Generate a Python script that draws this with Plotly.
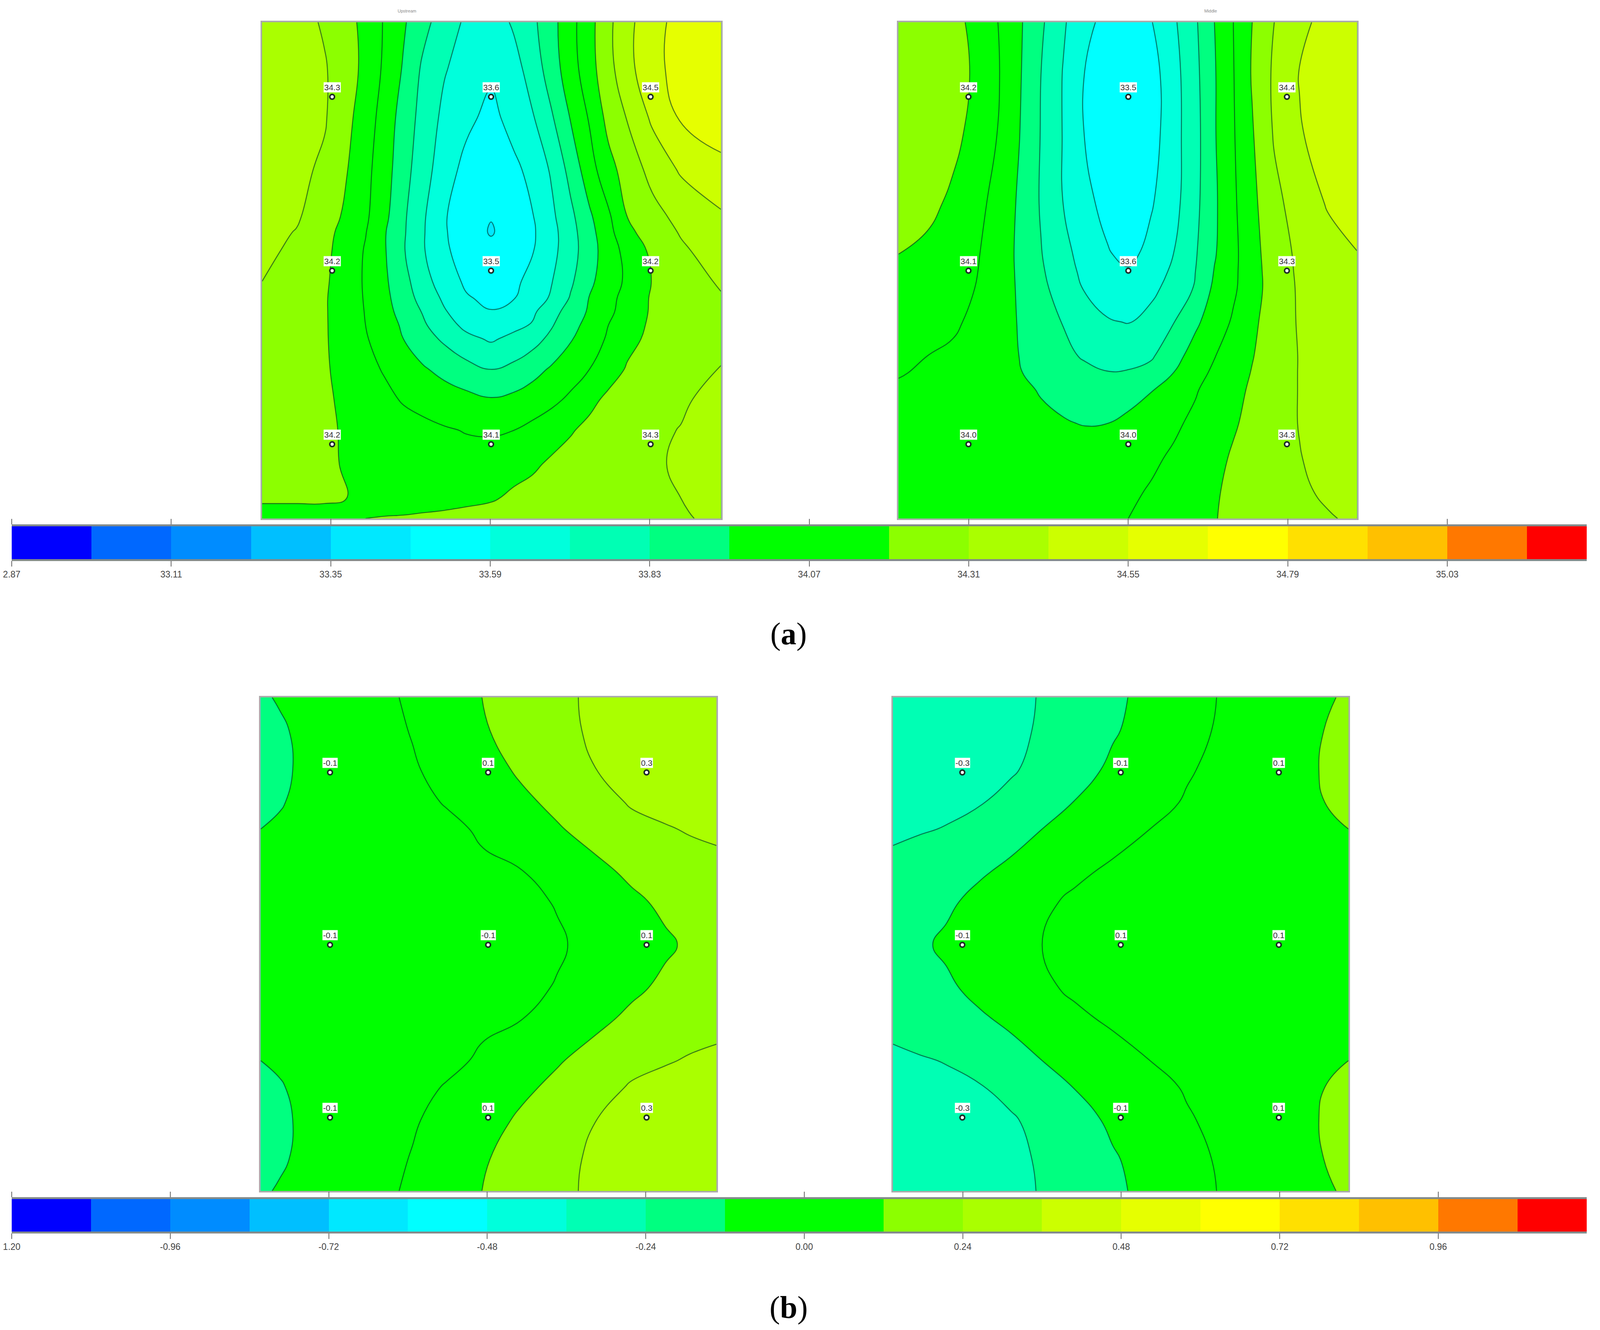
import plotly.graph_objects as go

W = 4370
H = 3404

# band colours of the scale, low to high (the green band is used twice)
band_colors = ['#0000ff', '#0068ff', '#008cff', '#00bfff', '#00e8ff', '#00ffff', '#00ffdc', '#00ffb4', '#00ff80', '#00ff00',
               '#00ff00', '#8cff00', '#aaff00', '#ccff00', '#e6ff00', '#ffff00', '#ffe000', '#ffc000', '#ff7800', '#ff0000']

edges_a = [32.87, 32.99, 33.11, 33.23, 33.35, 33.47, 33.59, 33.71, 33.83, 33.95, 34.07,
           34.19, 34.31, 34.43, 34.55, 34.67, 34.79, 34.91, 35.03, 35.15, 35.24]
ticks_a = [32.87, 33.11, 33.35, 33.59, 33.83, 34.07, 34.31, 34.55, 34.79, 35.03]
labels_a = ['2.87', '33.11', '33.35', '33.59', '33.83', '34.07', '34.31', '34.55', '34.79', '35.03']

edges_b = [-1.20, -1.08, -0.96, -0.84, -0.72, -0.60, -0.48, -0.36, -0.24, -0.12, 0.00,
           0.12, 0.24, 0.36, 0.48, 0.60, 0.72, 0.84, 0.96, 1.08, 1.185]
ticks_b = [-1.20, -0.96, -0.72, -0.48, -0.24, 0.00, 0.24, 0.48, 0.72, 0.96]
labels_b = ['1.20', '-0.96', '-0.72', '-0.48', '-0.24', '0.00', '0.24', '0.48', '0.72', '0.96']

# panel a, left
x_a1 = [42, 150, 240, 310, 370, 430, 490, 550, 620, 690, 768, 840, 900, 960, 1020, 1080, 1140, 1200, 1280, 1370, 1497]
y_a1 = [66, 200, 350, 500, 640, 685, 740, 830, 880, 920, 960, 1000, 1090, 1180, 1270, 1370, 1470, 1510, 1530]
z_a1 = [
    [34.40, 34.36, 34.295, 34.23, 34.155, 34.06, 33.965, 33.87, 33.77, 33.69, 33.65, 33.725, 33.805, 33.91, 34.03, 34.15, 34.28, 34.40, 34.50, 34.60, 34.66],
    [34.40, 34.36, 34.32, 34.24, 34.16, 34.05, 33.94, 33.815, 33.72, 33.66, 33.62, 33.67, 33.76, 33.895, 34.015, 34.145, 34.27, 34.395, 34.51, 34.60, 34.66],
    [34.39, 34.35, 34.32, 34.22, 34.13, 34.02, 33.90, 33.79, 33.68, 33.62, 33.55, 33.64, 33.70, 33.815, 33.955, 34.08, 34.225, 34.315, 34.45, 34.56, 34.63],
    [34.39, 34.34, 34.29, 34.195, 34.105, 34.00, 33.88, 33.76, 33.65, 33.55, 33.52, 33.56, 33.63, 33.725, 33.87, 34.02, 34.15, 34.24, 34.35, 34.445, 34.51],
    [34.36, 34.325, 34.24, 34.17, 34.09, 33.98, 33.85, 33.73, 33.60, 33.52, 33.475, 33.52, 33.585, 33.685, 33.80, 33.93, 34.05, 34.19, 34.27, 34.345, 34.415],
    [34.35, 34.305, 34.225, 34.15, 34.075, 33.96, 33.845, 33.725, 33.60, 33.53, 33.46, 33.525, 33.575, 33.67, 33.785, 33.91, 34.03, 34.165, 34.24, 34.32, 34.39],
    [34.345, 34.28, 34.215, 34.14, 34.06, 33.96, 33.84, 33.725, 33.605, 33.55, 33.505, 33.55, 33.585, 33.675, 33.78, 33.90, 34.01, 34.11, 34.215, 34.29, 34.37],
    [34.31, 34.25, 34.205, 34.135, 34.055, 33.97, 33.87, 33.76, 33.65, 33.57, 33.54, 33.57, 33.62, 33.705, 33.81, 33.925, 34.015, 34.09, 34.195, 34.25, 34.325],
    [34.30, 34.245, 34.20, 34.13, 34.06, 33.98, 33.89, 33.79, 33.69, 33.60, 33.565, 33.585, 33.65, 33.725, 33.84, 33.955, 34.04, 34.105, 34.205, 34.24, 34.30],
    [34.29, 34.24, 34.20, 34.13, 34.065, 33.99, 33.91, 33.825, 33.72, 33.645, 33.595, 33.64, 33.69, 33.785, 33.88, 33.965, 34.045, 34.12, 34.205, 34.235, 34.285],
    [34.28, 34.235, 34.20, 34.135, 34.07, 34.00, 33.935, 33.85, 33.76, 33.68, 33.645, 33.68, 33.72, 33.82, 33.915, 33.985, 34.07, 34.14, 34.21, 34.24, 34.28],
    [34.27, 34.23, 34.20, 34.14, 34.08, 34.015, 33.95, 33.88, 33.81, 33.74, 33.695, 33.74, 33.785, 33.86, 33.94, 34.01, 34.085, 34.16, 34.215, 34.245, 34.275],
    [34.26, 34.225, 34.20, 34.16, 34.105, 34.06, 34.01, 33.965, 33.915, 33.87, 33.83, 33.86, 33.91, 33.965, 34.02, 34.07, 34.14, 34.20, 34.24, 34.27, 34.315],
    [34.25, 34.22, 34.205, 34.17, 34.13, 34.10, 34.06, 34.035, 34.01, 33.985, 33.96, 33.98, 34.01, 34.045, 34.09, 34.16, 34.215, 34.24, 34.265, 34.29, 34.36],
    [34.235, 34.22, 34.205, 34.18, 34.16, 34.14, 34.12, 34.10, 34.08, 34.065, 34.06, 34.07, 34.10, 34.135, 34.18, 34.22, 34.24, 34.26, 34.285, 34.315, 34.38],
    [34.21, 34.205, 34.20, 34.185, 34.16, 34.145, 34.135, 34.125, 34.115, 34.11, 34.115, 34.14, 34.17, 34.21, 34.235, 34.25, 34.265, 34.275, 34.295, 34.325, 34.38],
    [34.20, 34.20, 34.20, 34.19, 34.165, 34.155, 34.15, 34.145, 34.145, 34.155, 34.175, 34.215, 34.235, 34.25, 34.26, 34.27, 34.28, 34.275, 34.285, 34.31, 34.37],
    [34.175, 34.175, 34.175, 34.17, 34.17, 34.17, 34.175, 34.185, 34.195, 34.21, 34.225, 34.24, 34.25, 34.26, 34.265, 34.27, 34.28, 34.285, 34.29, 34.30, 34.35],
    [34.16, 34.165, 34.175, 34.185, 34.19, 34.20, 34.205, 34.215, 34.22, 34.23, 34.24, 34.25, 34.26, 34.265, 34.27, 34.275, 34.28, 34.285, 34.29, 34.30, 34.33],
]
px_a1 = [264, 768, 1274]
py_a1 = [286, 799, 1311]
text_a1 = [['34.3', '33.6', '34.5'], ['34.2', '33.5', '34.2'], ['34.2', '34.1', '34.3']]

# panel a, right
x_a2 = [28, 120, 200, 270, 340, 410, 480, 550, 620, 690, 757, 830, 900, 970, 1030, 1090, 1150, 1220, 1300, 1390, 1482]
y_a2 = [66, 220, 400, 600, 750, 800, 850, 950, 1050, 1100, 1150, 1250, 1350, 1450, 1530]
z_a2 = [
    [34.29, 34.27, 34.235, 34.155, 34.075, 33.97, 33.85, 33.725, 33.625, 33.55, 33.53, 33.585, 33.69, 33.815, 33.95, 34.07, 34.19, 34.31, 34.40, 34.47, 34.52],
    [34.29, 34.27, 34.24, 34.175, 34.085, 33.965, 33.83, 33.705, 33.585, 33.51, 33.48, 33.54, 33.665, 33.80, 33.94, 34.065, 34.20, 34.33, 34.435, 34.50, 34.53],
    [34.28, 34.26, 34.225, 34.15, 34.07, 33.955, 33.825, 33.705, 33.585, 33.51, 33.48, 33.54, 33.665, 33.79, 33.94, 34.06, 34.18, 34.32, 34.42, 34.48, 34.52],
    [34.255, 34.225, 34.165, 34.105, 34.04, 33.935, 33.82, 33.71, 33.62, 33.555, 33.535, 33.58, 33.67, 33.80, 33.93, 34.05, 34.16, 34.28, 34.36, 34.44, 34.50],
    [34.19, 34.16, 34.13, 34.085, 34.02, 33.93, 33.835, 33.745, 33.665, 33.60, 33.56, 33.625, 33.71, 33.82, 33.94, 34.04, 34.15, 34.25, 34.335, 34.385, 34.425],
    [34.175, 34.15, 34.12, 34.08, 34.01, 33.935, 33.845, 33.76, 33.68, 33.615, 33.60, 33.65, 33.73, 33.83, 33.955, 34.045, 34.145, 34.245, 34.33, 34.37, 34.41],
    [34.165, 34.14, 34.115, 34.07, 34.00, 33.94, 33.86, 33.775, 33.70, 33.65, 33.64, 33.68, 33.755, 33.84, 33.975, 34.05, 34.145, 34.24, 34.325, 34.36, 34.40],
    [34.14, 34.115, 34.09, 34.045, 33.995, 33.945, 33.885, 33.825, 33.77, 33.72, 33.705, 33.75, 33.825, 33.93, 34.005, 34.085, 34.165, 34.25, 34.32, 34.345, 34.375],
    [34.09, 34.07, 34.05, 34.015, 33.985, 33.95, 33.91, 33.86, 33.815, 33.785, 33.785, 33.815, 33.91, 33.995, 34.065, 34.13, 34.185, 34.245, 34.315, 34.34, 34.36],
    [34.075, 34.06, 34.04, 34.01, 33.985, 33.955, 33.925, 33.90, 33.86, 33.835, 33.84, 33.87, 33.95, 34.03, 34.09, 34.145, 34.195, 34.25, 34.315, 34.34, 34.36],
    [34.06, 34.05, 34.03, 34.01, 33.985, 33.965, 33.945, 33.93, 33.92, 33.915, 33.915, 33.945, 33.99, 34.06, 34.115, 34.16, 34.205, 34.25, 34.315, 34.335, 34.355],
    [34.04, 34.03, 34.02, 34.00, 33.985, 33.97, 33.965, 33.955, 33.947, 33.95, 33.97, 34.005, 34.05, 34.095, 34.135, 34.18, 34.215, 34.25, 34.315, 34.345, 34.37],
    [34.03, 34.025, 34.015, 34.005, 33.995, 33.985, 33.985, 33.985, 33.99, 34.00, 34.015, 34.05, 34.085, 34.125, 34.165, 34.20, 34.225, 34.265, 34.305, 34.355, 34.385],
    [34.025, 34.02, 34.015, 34.01, 34.005, 34.00, 34.00, 34.005, 34.015, 34.03, 34.05, 34.08, 34.115, 34.15, 34.18, 34.21, 34.235, 34.26, 34.29, 34.33, 34.38],
    [34.02, 34.02, 34.015, 34.01, 34.01, 34.01, 34.015, 34.02, 34.035, 34.05, 34.07, 34.10, 34.125, 34.16, 34.185, 34.215, 34.235, 34.255, 34.275, 34.30, 34.33],
]
px_a2 = [250, 757, 1260]
py_a2 = [286, 799, 1311]
text_a2 = [['34.2', '33.5', '34.4'], ['34.1', '33.6', '34.3'], ['34.0', '34.0', '34.3']]

# panel b, left
x_b1 = [38, 100, 170, 300, 430, 530, 640, 760, 880, 1000, 1120, 1240, 1350, 1430, 1517]
y_b1 = [30, 130, 250, 350, 430, 560, 650, 782, 914, 1004, 1134, 1214, 1314, 1434, 1530]
z_b1 = [
    [-0.135, -0.11, -0.09, -0.055, -0.02, 0.015, 0.065, 0.122, 0.17, 0.22, 0.255, 0.28, 0.30, 0.315, 0.33],
    [-0.17, -0.135, -0.10, -0.065, -0.03, 0.005, 0.055, 0.11, 0.165, 0.21, 0.255, 0.285, 0.31, 0.325, 0.335],
    [-0.17, -0.135, -0.11, -0.075, -0.04, -0.01, 0.03, 0.075, 0.135, 0.19, 0.238, 0.27, 0.30, 0.315, 0.33],
    [-0.15, -0.125, -0.105, -0.075, -0.05, -0.025, 0.005, 0.05, 0.095, 0.145, 0.19, 0.25, 0.28, 0.29, 0.305],
    [-0.12, -0.11, -0.10, -0.08, -0.06, -0.04, -0.02, 0.012, 0.065, 0.11, 0.16, 0.205, 0.23, 0.25, 0.265],
    [-0.09, -0.085, -0.08, -0.07, -0.06, -0.045, -0.03, -0.015, -0.005, 0.04, 0.09, 0.14, 0.17, 0.185, 0.20],
    [-0.08, -0.075, -0.07, -0.065, -0.055, -0.05, -0.04, -0.03, -0.02, 0.005, 0.05, 0.10, 0.14, 0.155, 0.175],
    [-0.075, -0.07, -0.065, -0.06, -0.055, -0.05, -0.045, -0.035, -0.025, -0.01, 0.025, 0.07, 0.105, 0.135, 0.165],
    [-0.08, -0.075, -0.07, -0.065, -0.055, -0.05, -0.04, -0.03, -0.02, 0.005, 0.05, 0.10, 0.14, 0.155, 0.175],
    [-0.09, -0.085, -0.08, -0.07, -0.06, -0.045, -0.03, -0.015, -0.005, 0.04, 0.09, 0.14, 0.17, 0.185, 0.20],
    [-0.12, -0.11, -0.10, -0.08, -0.06, -0.04, -0.02, 0.012, 0.065, 0.11, 0.16, 0.205, 0.23, 0.25, 0.265],
    [-0.15, -0.125, -0.105, -0.075, -0.05, -0.025, 0.005, 0.05, 0.095, 0.145, 0.19, 0.25, 0.28, 0.29, 0.305],
    [-0.17, -0.135, -0.11, -0.075, -0.04, -0.01, 0.03, 0.075, 0.135, 0.19, 0.238, 0.27, 0.30, 0.315, 0.33],
    [-0.17, -0.135, -0.10, -0.065, -0.03, 0.005, 0.055, 0.11, 0.165, 0.21, 0.255, 0.285, 0.31, 0.325, 0.335],
    [-0.135, -0.11, -0.09, -0.055, -0.02, 0.015, 0.065, 0.122, 0.17, 0.22, 0.255, 0.28, 0.30, 0.315, 0.33],
]
px_b1 = [263, 776, 1290]
py_b1 = [258, 782, 1307]
text_b1 = [['-0.1', '0.1', '0.3'], ['-0.1', '-0.1', '0.1'], ['-0.1', '0.1', '0.3']]

# panel b, right
x_b2 = [46, 130, 220, 330, 430, 530, 640, 760, 880, 1000, 1120, 1240, 1350, 1430, 1524]
y_b2 = [30, 130, 250, 350, 430, 560, 650, 782, 914, 1004, 1134, 1214, 1314, 1434, 1530]
z_b2 = [
    [-0.33, -0.31, -0.29, -0.275, -0.26, -0.235, -0.19, -0.14, -0.09, -0.04, 0.01, 0.045, 0.08, 0.10, 0.135],
    [-0.335, -0.32, -0.30, -0.28, -0.26, -0.23, -0.18, -0.13, -0.08, -0.03, 0.015, 0.055, 0.09, 0.113, 0.16],
    [-0.33, -0.315, -0.295, -0.27, -0.25, -0.21, -0.16, -0.10, -0.055, -0.01, 0.03, 0.065, 0.10, 0.1205, 0.165],
    [-0.31, -0.29, -0.265, -0.245, -0.21, -0.16, -0.115, -0.075, -0.035, 0.01, 0.04, 0.07, 0.095, 0.113, 0.15],
    [-0.265, -0.25, -0.235, -0.195, -0.155, -0.12, -0.085, -0.045, 0.0, 0.03, 0.055, 0.075, 0.095, 0.105, 0.12],
    [-0.20, -0.18, -0.16, -0.13, -0.10, -0.06, -0.02, 0.02, 0.045, 0.06, 0.07, 0.08, 0.09, 0.095, 0.10],
    [-0.175, -0.155, -0.135, -0.095, -0.06, -0.02, 0.02, 0.04, 0.06, 0.07, 0.08, 0.085, 0.09, 0.09, 0.09],
    [-0.165, -0.135, -0.105, -0.07, -0.035, 0.0, 0.03, 0.05, 0.065, 0.075, 0.08, 0.085, 0.085, 0.085, 0.085],
    [-0.175, -0.155, -0.135, -0.095, -0.06, -0.02, 0.02, 0.04, 0.06, 0.07, 0.08, 0.085, 0.09, 0.09, 0.09],
    [-0.20, -0.18, -0.16, -0.13, -0.10, -0.06, -0.02, 0.02, 0.045, 0.06, 0.07, 0.08, 0.09, 0.095, 0.10],
    [-0.265, -0.25, -0.235, -0.195, -0.155, -0.12, -0.085, -0.045, 0.0, 0.03, 0.055, 0.075, 0.095, 0.105, 0.12],
    [-0.31, -0.29, -0.265, -0.245, -0.21, -0.16, -0.115, -0.075, -0.035, 0.01, 0.04, 0.07, 0.095, 0.113, 0.15],
    [-0.33, -0.315, -0.295, -0.27, -0.25, -0.21, -0.16, -0.10, -0.055, -0.01, 0.03, 0.065, 0.10, 0.1205, 0.165],
    [-0.335, -0.32, -0.30, -0.28, -0.26, -0.23, -0.18, -0.13, -0.08, -0.03, 0.015, 0.055, 0.09, 0.113, 0.16],
    [-0.33, -0.31, -0.29, -0.275, -0.26, -0.235, -0.19, -0.14, -0.09, -0.04, 0.01, 0.045, 0.08, 0.10, 0.135],
]
px_b2 = [271, 785, 1298]
py_b2 = [258, 782, 1307]
text_b2 = [['-0.3', '-0.1', '0.1'], ['-0.1', '0.1', '0.1'], ['-0.3', '-0.1', '0.1']]


def stepped_scale(colors):
    # hard steps so each band keeps one flat colour
    n = len(colors)
    scale = []
    for i, c in enumerate(colors):
        scale.append([i / n, c])
        scale.append([(i + 1) / n, c])
    return scale


def dom_x(left, right):
    return [left / W, right / W]


def dom_y(top, bottom):
    return [1 - bottom / H, 1 - top / H]


fig = go.Figure()
scale = stepped_scale(band_colors)
annotations = []


def add_panel(idx, xs, ys, zs, start, end, pxs, pys, texts, box):
    name = '' if idx == 1 else str(idx)
    left, right, top, bottom = box
    fig.add_trace(go.Contour(
        x=xs, y=ys, z=zs, xaxis='x' + name, yaxis='y' + name,
        zauto=False, zmin=start, zmax=end, autocontour=False,
        contours=dict(start=start, end=end, size=0.12, coloring='fill', showlines=True),
        colorscale=scale, showscale=False,
        line=dict(color='rgba(0,45,35,0.62)', width=2.6, smoothing=1.3),
    ))
    for yi, py in enumerate(pys):
        fig.add_trace(go.Scatter(
            x=pxs, y=[py] * len(pxs), xaxis='x' + name, yaxis='y' + name, mode='markers',
            marker=dict(color='white', size=12, line=dict(color='#1c2a26', width=4)),
            showlegend=False,
        ))
        for xi, px in enumerate(pxs):
            annotations.append(dict(
                x=px, y=py, xref='x' + name, yref='y' + name, text=texts[yi][xi], showarrow=False,
                yanchor='bottom', yshift=11, bgcolor='white', borderpad=1,
                font=dict(family='Liberation Sans', size=21, color='#333333'),
            ))
    axis_style = dict(showgrid=False, zeroline=False, showticklabels=False, ticks='',
                      showline=True, mirror=True, linecolor='#ababab', linewidth=4)
    fig.update_layout({
        'xaxis' + name: dict(domain=dom_x(left, right), range=[xs[0], xs[-1]], anchor='y' + name, **axis_style),
        'yaxis' + name: dict(domain=dom_y(top, bottom), range=[ys[-1], ys[0]], anchor='x' + name, **axis_style),
    })


def add_scale(idx, edges, ticks, labels, top, bottom):
    name = str(idx)
    fig.add_trace(go.Heatmap(
        x=edges, y=[0, 1], z=[list(range(len(band_colors)))], xaxis='x' + name, yaxis='y' + name,
        zmin=-0.5, zmax=len(band_colors) - 0.5, colorscale=scale, showscale=False,
    ))
    fig.update_layout({
        'xaxis' + name: dict(domain=dom_x(32, 4334), range=[edges[0], edges[-1]], anchor='y' + name,
                             tickvals=ticks, ticktext=labels, ticks='outside', ticklen=14, tickwidth=2,
                             tickcolor='#666666', showgrid=False, zeroline=False, showline=True,
                             linecolor='rgba(90,100,100,0.75)', linewidth=5, mirror='ticks',
                             tickfont=dict(family='Liberation Sans', size=23, color='#444444')),
        'yaxis' + name: dict(domain=dom_y(top, bottom), range=[0, 1], anchor='x' + name, visible=False),
    })


add_panel(1, x_a1, y_a1, z_a1, 32.87, 35.27, px_a1, py_a1, text_a1, (716, 1969, 57, 1327))
add_panel(2, x_a2, y_a2, z_a2, 32.87, 35.27, px_a2, py_a2, text_a2, (2454, 3706, 57, 1327))
add_panel(3, x_b1, y_b1, z_b1, -1.20, 1.20, px_b1, py_b1, text_b1, (712, 1957, 1785, 3048))
add_panel(4, x_b2, y_b2, z_b2, -1.20, 1.20, px_b2, py_b2, text_b2, (2439, 3683, 1785, 3048))
add_scale(5, edges_a, ticks_a, labels_a, 1347, 1431)
add_scale(6, edges_b, ticks_b, labels_b, 3069, 3152)

# captions and the small cut-off panel titles
for text, cx, cy, size, family, color in [
    ('(<b>a</b>)', 2154, 1622, 80, 'Liberation Serif', 'black'),
    ('(<b>b</b>)', 2154, 3346, 80, 'Liberation Serif', 'black'),
    ('Upstream', 1112, 28, 11, 'Liberation Sans', '#888888'),
    ('Middle', 3306, 28, 11, 'Liberation Sans', '#888888'),
]:
    annotations.append(dict(x=cx / W, y=1 - cy / H, xref='paper', yref='paper', text=text, showarrow=False,
                            xanchor='center', yanchor='middle', font=dict(family=family, size=size, color=color)))

# the plot follows the window size, so nothing gets cut off at the right
fig.update_layout(
    autosize=True, margin=dict(l=0, r=0, t=0, b=0, pad=0, autoexpand=False),
    paper_bgcolor='white', plot_bgcolor='white', showlegend=False, annotations=annotations,
)

fig.write_html(
    "out.html",
    default_width='100vw',
    default_height='100vh',
    config={'displayModeBar': False},
    post_script="document.body.style.margin='0';document.body.style.overflow='hidden';Plotly.Plots.resize(document.getElementById('{plot_id}'));",
)
